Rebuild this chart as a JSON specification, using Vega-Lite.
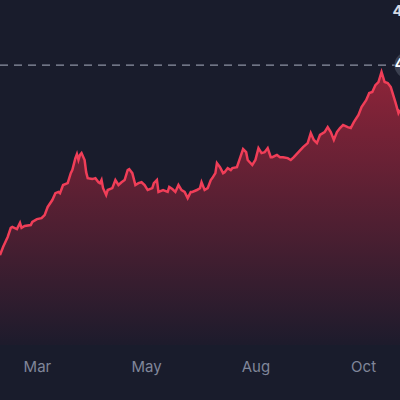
{
  "$schema": "https://vega.github.io/schema/vega-lite/v6.json",
  "autosize": "none",
  "padding": {"left": 0, "top": 0, "right": 0, "bottom": 55},
  "width": 400,
  "height": 345,
  "background": "#191c2c",
  "config": {"view": {"stroke": null}, "font": "Inter"},
  "datasets": {
    "price": [
      {"date":"2023-02-19","v":371.7},{"date":"2023-02-21","v":374.3},{"date":"2023-02-24","v":377.5},{"date":"2023-02-26","v":380.4},
      {"date":"2023-02-27","v":380.7},{"date":"2023-03-02","v":380.0},{"date":"2023-03-04","v":382.0},{"date":"2023-03-05","v":380.4},
      {"date":"2023-03-07","v":381.0},{"date":"2023-03-11","v":381.3},{"date":"2023-03-12","v":382.3},{"date":"2023-03-15","v":383.2},
      {"date":"2023-03-18","v":383.5},{"date":"2023-03-20","v":384.5},{"date":"2023-03-22","v":387.1},{"date":"2023-03-25","v":389.3},
      {"date":"2023-03-27","v":391.5},{"date":"2023-03-29","v":391.9},{"date":"2023-03-30","v":391.5},{"date":"2023-04-01","v":394.1},
      {"date":"2023-04-04","v":394.7},{"date":"2023-04-06","v":397.9},{"date":"2023-04-07","v":398.9},{"date":"2023-04-09","v":402.7},
      {"date":"2023-04-10","v":404.0},{"date":"2023-04-11","v":402.1},{"date":"2023-04-12","v":403.7},{"date":"2023-04-13","v":404.3},
      {"date":"2023-04-15","v":402.1},{"date":"2023-04-16","v":398.2},{"date":"2023-04-17","v":396.3},{"date":"2023-04-20","v":396.0},
      {"date":"2023-04-22","v":396.3},{"date":"2023-04-24","v":395.0},{"date":"2023-04-25","v":394.7},{"date":"2023-04-26","v":395.7},
      {"date":"2023-04-27","v":393.1},{"date":"2023-04-29","v":390.9},{"date":"2023-04-30","v":392.5},{"date":"2023-05-03","v":393.1},
      {"date":"2023-05-05","v":395.7},{"date":"2023-05-07","v":394.1},{"date":"2023-05-09","v":395.0},{"date":"2023-05-11","v":395.7},
      {"date":"2023-05-13","v":398.9},{"date":"2023-05-14","v":399.2},{"date":"2023-05-16","v":397.9},{"date":"2023-05-18","v":394.1},
      {"date":"2023-05-20","v":394.7},{"date":"2023-05-22","v":395.0},{"date":"2023-05-24","v":394.1},{"date":"2023-05-26","v":392.5},
      {"date":"2023-05-29","v":393.1},{"date":"2023-05-30","v":394.7},{"date":"2023-06-01","v":395.7},{"date":"2023-06-02","v":391.9},
      {"date":"2023-06-05","v":392.5},{"date":"2023-06-08","v":391.9},{"date":"2023-06-09","v":393.5},{"date":"2023-06-11","v":392.8},
      {"date":"2023-06-13","v":391.9},{"date":"2023-06-15","v":394.1},{"date":"2023-06-17","v":392.5},{"date":"2023-06-19","v":391.9},
      {"date":"2023-06-21","v":389.9},{"date":"2023-06-23","v":391.9},{"date":"2023-06-24","v":391.9},{"date":"2023-06-27","v":392.5},
      {"date":"2023-06-29","v":393.1},{"date":"2023-06-30","v":395.0},{"date":"2023-07-02","v":392.5},{"date":"2023-07-04","v":393.1},
      {"date":"2023-07-06","v":395.7},{"date":"2023-07-07","v":396.3},{"date":"2023-07-09","v":397.9},{"date":"2023-07-10","v":401.1},
      {"date":"2023-07-12","v":399.8},{"date":"2023-07-14","v":397.9},{"date":"2023-07-15","v":398.2},{"date":"2023-07-17","v":399.5},
      {"date":"2023-07-19","v":398.9},{"date":"2023-07-20","v":399.5},{"date":"2023-07-23","v":399.8},{"date":"2023-07-25","v":402.7},
      {"date":"2023-07-27","v":405.6},{"date":"2023-07-29","v":404.6},{"date":"2023-07-30","v":402.1},{"date":"2023-08-02","v":400.5},
      {"date":"2023-08-04","v":402.1},{"date":"2023-08-06","v":405.9},{"date":"2023-08-08","v":404.3},{"date":"2023-08-10","v":404.6},
      {"date":"2023-08-12","v":405.9},{"date":"2023-08-14","v":403.0},{"date":"2023-08-15","v":403.0},{"date":"2023-08-18","v":403.7},
      {"date":"2023-08-20","v":403.0},{"date":"2023-08-22","v":403.0},{"date":"2023-08-25","v":402.7},{"date":"2023-08-27","v":402.1},
      {"date":"2023-08-29","v":403.0},{"date":"2023-09-01","v":404.6},{"date":"2023-09-04","v":406.2},{"date":"2023-09-07","v":407.5},
      {"date":"2023-09-09","v":410.7},{"date":"2023-09-11","v":408.5},{"date":"2023-09-13","v":407.5},{"date":"2023-09-15","v":410.1},
      {"date":"2023-09-18","v":411.0},{"date":"2023-09-20","v":412.6},{"date":"2023-09-22","v":411.0},{"date":"2023-09-24","v":408.5},
      {"date":"2023-09-26","v":411.0},{"date":"2023-09-28","v":412.3},{"date":"2023-09-30","v":413.3},{"date":"2023-10-03","v":412.6},
      {"date":"2023-10-05","v":412.3},{"date":"2023-10-07","v":414.2},{"date":"2023-10-10","v":416.5},{"date":"2023-10-12","v":419.0},
      {"date":"2023-10-15","v":421.2},{"date":"2023-10-17","v":423.5},{"date":"2023-10-19","v":423.8},{"date":"2023-10-21","v":426.0},
      {"date":"2023-10-23","v":427.0},{"date":"2023-10-25","v":430.2},{"date":"2023-10-27","v":427.0},{"date":"2023-10-29","v":426.7},
      {"date":"2023-10-31","v":425.4},{"date":"2023-11-02","v":422.2},{"date":"2023-11-03","v":420.6},{"date":"2023-11-05","v":417.1},
      {"date":"2023-11-06","v":418.1}
    ],
    "ref": [{"date":"2023-11-11","v":432.4,"label":"432.40"}]
  },
  "encoding": {
    "x": {
      "field": "date", "type": "temporal",
      "scale": {"type": "utc", "domain": [{"year":2023,"month":2,"date":19,"utc":true},{"year":2023,"month":11,"date":6,"utc":true}]},
      "axis": {
        "title": null, "domain": false, "ticks": false, "grid": false,
        "values": [{"year":2023,"month":3,"date":15,"utc":true},{"year":2023,"month":5,"date":25,"utc":true},{"year":2023,"month":8,"date":4,"utc":true},{"year":2023,"month":10,"date":13,"utc":true}],
        "format": "%b", "labelColor": "#80869a", "labelFontSize": 15, "labelPadding": 14, "labelFont": "Inter"
      }
    },
    "y": {
      "field": "v", "type": "quantitative",
      "scale": {"domain": [343, 453.2], "zero": false, "nice": false},
      "axis": {
        "orient": "right", "title": null, "domain": false, "ticks": false, "grid": false,
        "values": [350, 450], "format": ".2f", "offset": -8, "labelPadding": 0,
        "labelColor": "#d4d7e0", "labelFontSize": 15, "labelFont": "Inter", "labelFontWeight": "bold"
      }
    }
  },
  "layer": [
    {
      "data": {"name": "price"},
      "mark": {
        "type": "area",
        "color": {"gradient": "linear", "x1": 0, "y1": 0, "x2": 0, "y2": 1,
          "stops": [{"offset": 0, "color": "#8e2439"}, {"offset": 1, "color": "#1d1b2c"}]}
      },
      "encoding": {"y2": {"datum": 343}}
    },
    {
      "data": {"name": "price"},
      "mark": {"type": "line", "color": "#f03e58", "strokeWidth": 2.5}
    },
    {
      "data": {"name": "ref"},
      "mark": {"type": "rule", "color": "#8d92a3", "strokeDash": [8, 6], "strokeWidth": 1.3},
      "encoding": {"x": {"value": 0}, "x2": {"value": 400}}
    },
    {
      "data": {"name": "ref"},
      "mark": {"type": "point", "filled": true, "color": "#3b4050", "size": 700, "opacity": 1}
    },
    {
      "data": {"name": "ref"},
      "mark": {"type": "text", "align": "left", "dx": -13, "color": "#ffffff", "fontSize": 14, "fontWeight": "bold", "font": "Inter"},
      "encoding": {"text": {"field": "label"}}
    }
  ]
}
